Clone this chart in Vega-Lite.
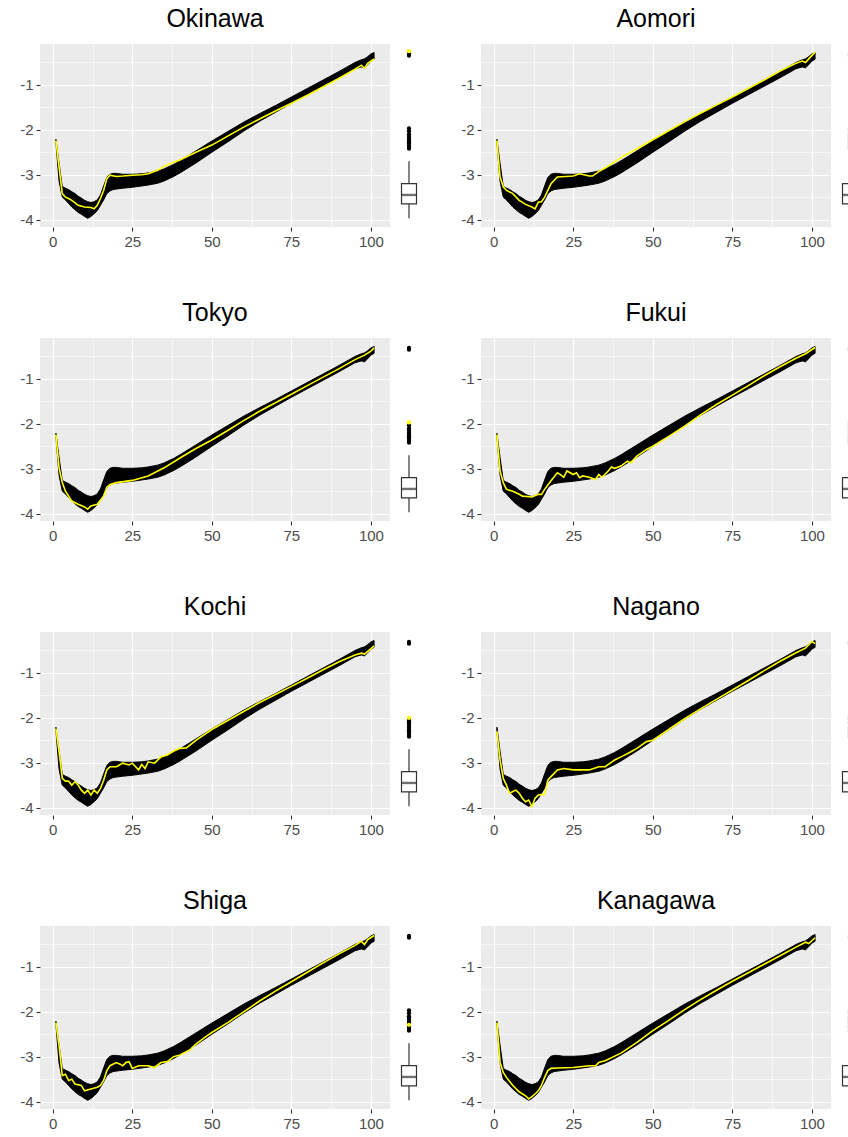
{
"$schema": "https://vega.github.io/schema/vega-lite/v6.json",
"background": "white",
"padding": {"left": 19, "top": 7, "right": 0, "bottom": 0},
"config": {
  "view": {"stroke": null},
  "axis": {"labelFont": "Liberation Sans", "labelFontSize": 15, "labelColor": "#4D4D4D", "tickColor": "#333333", "tickSize": 4, "tickWidth": 1.1, "labelPadding": 3, "domain": false, "gridColor": "white", "gridWidth": 1.2},
  "title": {"font": "Liberation Sans", "fontSize": 25, "fontWeight": "normal", "color": "black", "anchor": "middle", "baseline": "alphabetic", "offset": 12}
},
"datasets": {
  "band": [
    {"age":1,"lo":-2.28,"hi":-2.21},{"age":2,"lo":-3.15,"hi":-2.75},{"age":3,"lo":-3.5,"hi":-3.26},{"age":4,"lo":-3.56,"hi":-3.3},{"age":5,"lo":-3.64,"hi":-3.33},{"age":6,"lo":-3.72,"hi":-3.38},{"age":7,"lo":-3.78,"hi":-3.42},{"age":8,"lo":-3.84,"hi":-3.48},{"age":9,"lo":-3.88,"hi":-3.52},{"age":10,"lo":-3.93,"hi":-3.57},{"age":11,"lo":-3.97,"hi":-3.6},{"age":12,"lo":-3.93,"hi":-3.62},{"age":13,"lo":-3.87,"hi":-3.6},{"age":14,"lo":-3.8,"hi":-3.56},{"age":15,"lo":-3.68,"hi":-3.45},{"age":16,"lo":-3.56,"hi":-3.25},{"age":17,"lo":-3.42,"hi":-3.06},{"age":18,"lo":-3.36,"hi":-2.99},{"age":19,"lo":-3.33,"hi":-2.97},{"age":20,"lo":-3.32,"hi":-2.97},{"age":22,"lo":-3.3,"hi":-2.99},{"age":25,"lo":-3.28,"hi":-2.99},{"age":28,"lo":-3.25,"hi":-2.98},{"age":30,"lo":-3.23,"hi":-2.96},{"age":33,"lo":-3.19,"hi":-2.92},{"age":35,"lo":-3.14,"hi":-2.87},{"age":38,"lo":-3.04,"hi":-2.77},{"age":40,"lo":-2.96,"hi":-2.69},{"age":45,"lo":-2.74,"hi":-2.47},{"age":50,"lo":-2.5,"hi":-2.25},{"age":55,"lo":-2.27,"hi":-2.04},{"age":60,"lo":-2.03,"hi":-1.83},{"age":65,"lo":-1.81,"hi":-1.64},{"age":70,"lo":-1.61,"hi":-1.46},{"age":75,"lo":-1.41,"hi":-1.27},{"age":80,"lo":-1.22,"hi":-1.08},{"age":85,"lo":-1.03,"hi":-0.89},{"age":90,"lo":-0.84,"hi":-0.7},{"age":95,"lo":-0.64,"hi":-0.5},{"age":97,"lo":-0.6,"hi":-0.44},{"age":98,"lo":-0.62,"hi":-0.42},{"age":99,"lo":-0.55,"hi":-0.37},{"age":100,"lo":-0.47,"hi":-0.31},{"age":101,"lo":-0.43,"hi":-0.28}
  ],
  "yellow": [
    {"pref":"Okinawa","age":1,"v":-2.24},{"pref":"Okinawa","age":2,"v":-2.83},{"pref":"Okinawa","age":3,"v":-3.42},{"pref":"Okinawa","age":4,"v":-3.5},{"pref":"Okinawa","age":5,"v":-3.53},{"pref":"Okinawa","age":6,"v":-3.57},{"pref":"Okinawa","age":8,"v":-3.68},{"pref":"Okinawa","age":10,"v":-3.72},{"pref":"Okinawa","age":12,"v":-3.73},{"pref":"Okinawa","age":13,"v":-3.76},{"pref":"Okinawa","age":14,"v":-3.68},{"pref":"Okinawa","age":15,"v":-3.53},{"pref":"Okinawa","age":16,"v":-3.35},{"pref":"Okinawa","age":17,"v":-3.09},{"pref":"Okinawa","age":18,"v":-3.01},{"pref":"Okinawa","age":20,"v":-3.04},{"pref":"Okinawa","age":22,"v":-3.03},{"pref":"Okinawa","age":25,"v":-3.01},{"pref":"Okinawa","age":28,"v":-3.0},{"pref":"Okinawa","age":30,"v":-2.98},{"pref":"Okinawa","age":33,"v":-2.9},{"pref":"Okinawa","age":35,"v":-2.81},{"pref":"Okinawa","age":38,"v":-2.72},{"pref":"Okinawa","age":40,"v":-2.67},{"pref":"Okinawa","age":45,"v":-2.5},{"pref":"Okinawa","age":50,"v":-2.34},{"pref":"Okinawa","age":55,"v":-2.14},{"pref":"Okinawa","age":60,"v":-1.94},{"pref":"Okinawa","age":65,"v":-1.76},{"pref":"Okinawa","age":70,"v":-1.58},{"pref":"Okinawa","age":75,"v":-1.41},{"pref":"Okinawa","age":80,"v":-1.23},{"pref":"Okinawa","age":85,"v":-1.04},{"pref":"Okinawa","age":90,"v":-0.85},{"pref":"Okinawa","age":95,"v":-0.65},{"pref":"Okinawa","age":97,"v":-0.56},{"pref":"Okinawa","age":98,"v":-0.63},{"pref":"Okinawa","age":99,"v":-0.52},{"pref":"Okinawa","age":101,"v":-0.42},
    {"pref":"Aomori","age":1,"v":-2.24},{"pref":"Aomori","age":2,"v":-3.05},{"pref":"Aomori","age":3,"v":-3.27},{"pref":"Aomori","age":4,"v":-3.35},{"pref":"Aomori","age":6,"v":-3.42},{"pref":"Aomori","age":8,"v":-3.57},{"pref":"Aomori","age":10,"v":-3.66},{"pref":"Aomori","age":12,"v":-3.72},{"pref":"Aomori","age":13,"v":-3.76},{"pref":"Aomori","age":14,"v":-3.61},{"pref":"Aomori","age":15,"v":-3.6},{"pref":"Aomori","age":16,"v":-3.5},{"pref":"Aomori","age":18,"v":-3.2},{"pref":"Aomori","age":20,"v":-3.05},{"pref":"Aomori","age":25,"v":-3.03},{"pref":"Aomori","age":27,"v":-2.98},{"pref":"Aomori","age":30,"v":-3.03},{"pref":"Aomori","age":31,"v":-3.03},{"pref":"Aomori","age":33,"v":-2.93},{"pref":"Aomori","age":35,"v":-2.85},{"pref":"Aomori","age":40,"v":-2.62},{"pref":"Aomori","age":45,"v":-2.42},{"pref":"Aomori","age":50,"v":-2.22},{"pref":"Aomori","age":55,"v":-2.02},{"pref":"Aomori","age":60,"v":-1.82},{"pref":"Aomori","age":65,"v":-1.63},{"pref":"Aomori","age":70,"v":-1.45},{"pref":"Aomori","age":75,"v":-1.27},{"pref":"Aomori","age":80,"v":-1.08},{"pref":"Aomori","age":85,"v":-0.89},{"pref":"Aomori","age":90,"v":-0.69},{"pref":"Aomori","age":95,"v":-0.52},{"pref":"Aomori","age":97,"v":-0.47},{"pref":"Aomori","age":98,"v":-0.5},{"pref":"Aomori","age":99,"v":-0.42},{"pref":"Aomori","age":101,"v":-0.27},
    {"pref":"Tokyo","age":1,"v":-2.24},{"pref":"Tokyo","age":2,"v":-2.98},{"pref":"Tokyo","age":3,"v":-3.31},{"pref":"Tokyo","age":4,"v":-3.5},{"pref":"Tokyo","age":6,"v":-3.72},{"pref":"Tokyo","age":8,"v":-3.79},{"pref":"Tokyo","age":10,"v":-3.85},{"pref":"Tokyo","age":11,"v":-3.9},{"pref":"Tokyo","age":12,"v":-3.83},{"pref":"Tokyo","age":14,"v":-3.79},{"pref":"Tokyo","age":16,"v":-3.61},{"pref":"Tokyo","age":17,"v":-3.41},{"pref":"Tokyo","age":18,"v":-3.35},{"pref":"Tokyo","age":20,"v":-3.31},{"pref":"Tokyo","age":25,"v":-3.26},{"pref":"Tokyo","age":30,"v":-3.16},{"pref":"Tokyo","age":35,"v":-2.98},{"pref":"Tokyo","age":40,"v":-2.76},{"pref":"Tokyo","age":45,"v":-2.55},{"pref":"Tokyo","age":50,"v":-2.36},{"pref":"Tokyo","age":55,"v":-2.15},{"pref":"Tokyo","age":60,"v":-1.93},{"pref":"Tokyo","age":65,"v":-1.72},{"pref":"Tokyo","age":70,"v":-1.53},{"pref":"Tokyo","age":75,"v":-1.34},{"pref":"Tokyo","age":80,"v":-1.15},{"pref":"Tokyo","age":85,"v":-0.96},{"pref":"Tokyo","age":90,"v":-0.77},{"pref":"Tokyo","age":95,"v":-0.57},{"pref":"Tokyo","age":98,"v":-0.47},{"pref":"Tokyo","age":100,"v":-0.38},{"pref":"Tokyo","age":101,"v":-0.31},
    {"pref":"Fukui","age":1,"v":-2.24},{"pref":"Fukui","age":2,"v":-3.05},{"pref":"Fukui","age":3,"v":-3.31},{"pref":"Fukui","age":4,"v":-3.46},{"pref":"Fukui","age":6,"v":-3.5},{"pref":"Fukui","age":8,"v":-3.57},{"pref":"Fukui","age":9,"v":-3.61},{"pref":"Fukui","age":12,"v":-3.63},{"pref":"Fukui","age":14,"v":-3.57},{"pref":"Fukui","age":15,"v":-3.57},{"pref":"Fukui","age":16,"v":-3.46},{"pref":"Fukui","age":18,"v":-3.27},{"pref":"Fukui","age":20,"v":-3.09},{"pref":"Fukui","age":21,"v":-3.13},{"pref":"Fukui","age":22,"v":-3.19},{"pref":"Fukui","age":23,"v":-3.05},{"pref":"Fukui","age":25,"v":-3.13},{"pref":"Fukui","age":26,"v":-3.09},{"pref":"Fukui","age":27,"v":-3.2},{"pref":"Fukui","age":28,"v":-3.16},{"pref":"Fukui","age":30,"v":-3.19},{"pref":"Fukui","age":32,"v":-3.24},{"pref":"Fukui","age":33,"v":-3.13},{"pref":"Fukui","age":34,"v":-3.19},{"pref":"Fukui","age":36,"v":-3.05},{"pref":"Fukui","age":37,"v":-2.96},{"pref":"Fukui","age":38,"v":-2.99},{"pref":"Fukui","age":40,"v":-2.94},{"pref":"Fukui","age":42,"v":-2.83},{"pref":"Fukui","age":43,"v":-2.87},{"pref":"Fukui","age":45,"v":-2.72},{"pref":"Fukui","age":48,"v":-2.57},{"pref":"Fukui","age":50,"v":-2.5},{"pref":"Fukui","age":55,"v":-2.28},{"pref":"Fukui","age":60,"v":-2.05},{"pref":"Fukui","age":65,"v":-1.8},{"pref":"Fukui","age":70,"v":-1.57},{"pref":"Fukui","age":75,"v":-1.36},{"pref":"Fukui","age":80,"v":-1.15},{"pref":"Fukui","age":85,"v":-0.93},{"pref":"Fukui","age":90,"v":-0.73},{"pref":"Fukui","age":95,"v":-0.54},{"pref":"Fukui","age":98,"v":-0.44},{"pref":"Fukui","age":101,"v":-0.3},
    {"pref":"Kochi","age":1,"v":-2.24},{"pref":"Kochi","age":2,"v":-2.76},{"pref":"Kochi","age":3,"v":-3.35},{"pref":"Kochi","age":4,"v":-3.41},{"pref":"Kochi","age":5,"v":-3.41},{"pref":"Kochi","age":6,"v":-3.5},{"pref":"Kochi","age":7,"v":-3.42},{"pref":"Kochi","age":8,"v":-3.5},{"pref":"Kochi","age":9,"v":-3.61},{"pref":"Kochi","age":10,"v":-3.68},{"pref":"Kochi","age":11,"v":-3.61},{"pref":"Kochi","age":12,"v":-3.72},{"pref":"Kochi","age":13,"v":-3.61},{"pref":"Kochi","age":14,"v":-3.68},{"pref":"Kochi","age":15,"v":-3.57},{"pref":"Kochi","age":16,"v":-3.39},{"pref":"Kochi","age":17,"v":-3.16},{"pref":"Kochi","age":18,"v":-3.09},{"pref":"Kochi","age":20,"v":-3.09},{"pref":"Kochi","age":22,"v":-3.01},{"pref":"Kochi","age":24,"v":-3.05},{"pref":"Kochi","age":25,"v":-3.01},{"pref":"Kochi","age":27,"v":-3.16},{"pref":"Kochi","age":28,"v":-3.04},{"pref":"Kochi","age":29,"v":-3.13},{"pref":"Kochi","age":30,"v":-2.98},{"pref":"Kochi","age":32,"v":-3.01},{"pref":"Kochi","age":34,"v":-2.87},{"pref":"Kochi","age":36,"v":-2.83},{"pref":"Kochi","age":38,"v":-2.74},{"pref":"Kochi","age":40,"v":-2.68},{"pref":"Kochi","age":42,"v":-2.67},{"pref":"Kochi","age":45,"v":-2.5},{"pref":"Kochi","age":50,"v":-2.26},{"pref":"Kochi","age":55,"v":-2.06},{"pref":"Kochi","age":60,"v":-1.86},{"pref":"Kochi","age":65,"v":-1.66},{"pref":"Kochi","age":70,"v":-1.48},{"pref":"Kochi","age":75,"v":-1.3},{"pref":"Kochi","age":80,"v":-1.12},{"pref":"Kochi","age":85,"v":-0.93},{"pref":"Kochi","age":90,"v":-0.75},{"pref":"Kochi","age":95,"v":-0.6},{"pref":"Kochi","age":97,"v":-0.56},{"pref":"Kochi","age":98,"v":-0.58},{"pref":"Kochi","age":101,"v":-0.4},
    {"pref":"Nagano","age":1,"v":-2.3},{"pref":"Nagano","age":2,"v":-2.94},{"pref":"Nagano","age":3,"v":-3.35},{"pref":"Nagano","age":4,"v":-3.5},{"pref":"Nagano","age":5,"v":-3.68},{"pref":"Nagano","age":6,"v":-3.64},{"pref":"Nagano","age":7,"v":-3.61},{"pref":"Nagano","age":8,"v":-3.68},{"pref":"Nagano","age":9,"v":-3.79},{"pref":"Nagano","age":10,"v":-3.87},{"pref":"Nagano","age":11,"v":-3.83},{"pref":"Nagano","age":12,"v":-3.98},{"pref":"Nagano","age":13,"v":-3.79},{"pref":"Nagano","age":14,"v":-3.72},{"pref":"Nagano","age":16,"v":-3.7},{"pref":"Nagano","age":17,"v":-3.39},{"pref":"Nagano","age":18,"v":-3.31},{"pref":"Nagano","age":20,"v":-3.16},{"pref":"Nagano","age":22,"v":-3.13},{"pref":"Nagano","age":25,"v":-3.16},{"pref":"Nagano","age":30,"v":-3.16},{"pref":"Nagano","age":33,"v":-3.09},{"pref":"Nagano","age":35,"v":-3.09},{"pref":"Nagano","age":38,"v":-2.94},{"pref":"Nagano","age":40,"v":-2.87},{"pref":"Nagano","age":43,"v":-2.76},{"pref":"Nagano","age":45,"v":-2.68},{"pref":"Nagano","age":48,"v":-2.53},{"pref":"Nagano","age":50,"v":-2.5},{"pref":"Nagano","age":55,"v":-2.26},{"pref":"Nagano","age":60,"v":-2.02},{"pref":"Nagano","age":65,"v":-1.8},{"pref":"Nagano","age":70,"v":-1.59},{"pref":"Nagano","age":75,"v":-1.38},{"pref":"Nagano","age":80,"v":-1.17},{"pref":"Nagano","age":85,"v":-0.95},{"pref":"Nagano","age":90,"v":-0.74},{"pref":"Nagano","age":95,"v":-0.55},{"pref":"Nagano","age":98,"v":-0.45},{"pref":"Nagano","age":100,"v":-0.3},{"pref":"Nagano","age":101,"v":-0.35},
    {"pref":"Shiga","age":1,"v":-2.24},{"pref":"Shiga","age":2,"v":-2.76},{"pref":"Shiga","age":3,"v":-3.42},{"pref":"Shiga","age":4,"v":-3.39},{"pref":"Shiga","age":5,"v":-3.53},{"pref":"Shiga","age":6,"v":-3.5},{"pref":"Shiga","age":7,"v":-3.61},{"pref":"Shiga","age":9,"v":-3.64},{"pref":"Shiga","age":10,"v":-3.76},{"pref":"Shiga","age":12,"v":-3.72},{"pref":"Shiga","age":14,"v":-3.68},{"pref":"Shiga","age":15,"v":-3.64},{"pref":"Shiga","age":16,"v":-3.53},{"pref":"Shiga","age":17,"v":-3.31},{"pref":"Shiga","age":18,"v":-3.2},{"pref":"Shiga","age":20,"v":-3.13},{"pref":"Shiga","age":21,"v":-3.16},{"pref":"Shiga","age":22,"v":-3.2},{"pref":"Shiga","age":23,"v":-3.13},{"pref":"Shiga","age":24,"v":-3.11},{"pref":"Shiga","age":25,"v":-3.26},{"pref":"Shiga","age":27,"v":-3.2},{"pref":"Shiga","age":30,"v":-3.2},{"pref":"Shiga","age":32,"v":-3.24},{"pref":"Shiga","age":34,"v":-3.13},{"pref":"Shiga","age":36,"v":-3.11},{"pref":"Shiga","age":38,"v":-3.0},{"pref":"Shiga","age":40,"v":-2.96},{"pref":"Shiga","age":43,"v":-2.85},{"pref":"Shiga","age":45,"v":-2.72},{"pref":"Shiga","age":48,"v":-2.56},{"pref":"Shiga","age":50,"v":-2.46},{"pref":"Shiga","age":55,"v":-2.24},{"pref":"Shiga","age":60,"v":-2.0},{"pref":"Shiga","age":65,"v":-1.76},{"pref":"Shiga","age":70,"v":-1.54},{"pref":"Shiga","age":75,"v":-1.33},{"pref":"Shiga","age":80,"v":-1.12},{"pref":"Shiga","age":85,"v":-0.91},{"pref":"Shiga","age":90,"v":-0.71},{"pref":"Shiga","age":95,"v":-0.52},{"pref":"Shiga","age":97,"v":-0.43},{"pref":"Shiga","age":98,"v":-0.5},{"pref":"Shiga","age":99,"v":-0.39},{"pref":"Shiga","age":101,"v":-0.3},
    {"pref":"Kanagawa","age":1,"v":-2.24},{"pref":"Kanagawa","age":2,"v":-3.13},{"pref":"Kanagawa","age":3,"v":-3.35},{"pref":"Kanagawa","age":4,"v":-3.46},{"pref":"Kanagawa","age":6,"v":-3.64},{"pref":"Kanagawa","age":8,"v":-3.78},{"pref":"Kanagawa","age":10,"v":-3.87},{"pref":"Kanagawa","age":11,"v":-3.94},{"pref":"Kanagawa","age":12,"v":-3.89},{"pref":"Kanagawa","age":13,"v":-3.83},{"pref":"Kanagawa","age":14,"v":-3.76},{"pref":"Kanagawa","age":15,"v":-3.64},{"pref":"Kanagawa","age":16,"v":-3.46},{"pref":"Kanagawa","age":17,"v":-3.31},{"pref":"Kanagawa","age":18,"v":-3.26},{"pref":"Kanagawa","age":20,"v":-3.25},{"pref":"Kanagawa","age":25,"v":-3.24},{"pref":"Kanagawa","age":30,"v":-3.2},{"pref":"Kanagawa","age":32,"v":-3.2},{"pref":"Kanagawa","age":33,"v":-3.13},{"pref":"Kanagawa","age":35,"v":-3.09},{"pref":"Kanagawa","age":40,"v":-2.92},{"pref":"Kanagawa","age":45,"v":-2.68},{"pref":"Kanagawa","age":50,"v":-2.42},{"pref":"Kanagawa","age":55,"v":-2.19},{"pref":"Kanagawa","age":60,"v":-1.95},{"pref":"Kanagawa","age":65,"v":-1.73},{"pref":"Kanagawa","age":70,"v":-1.52},{"pref":"Kanagawa","age":75,"v":-1.32},{"pref":"Kanagawa","age":80,"v":-1.13},{"pref":"Kanagawa","age":85,"v":-0.94},{"pref":"Kanagawa","age":90,"v":-0.75},{"pref":"Kanagawa","age":95,"v":-0.56},{"pref":"Kanagawa","age":98,"v":-0.45},{"pref":"Kanagawa","age":99,"v":-0.48},{"pref":"Kanagawa","age":101,"v":-0.35}
  ],
  "box": [
    {"pref":"Okinawa","q1":-3.65,"med":-3.45,"q3":-3.2,"lo":-3.97,"hi":-2.7},
    {"pref":"Aomori","q1":-3.65,"med":-3.45,"q3":-3.2,"lo":-3.97,"hi":-2.7},
    {"pref":"Tokyo","q1":-3.65,"med":-3.45,"q3":-3.2,"lo":-3.97,"hi":-2.7},
    {"pref":"Fukui","q1":-3.65,"med":-3.45,"q3":-3.2,"lo":-3.97,"hi":-2.7},
    {"pref":"Kochi","q1":-3.65,"med":-3.45,"q3":-3.2,"lo":-3.97,"hi":-2.7},
    {"pref":"Nagano","q1":-3.65,"med":-3.45,"q3":-3.2,"lo":-3.97,"hi":-2.7},
    {"pref":"Shiga","q1":-3.65,"med":-3.45,"q3":-3.2,"lo":-3.97,"hi":-2.7},
    {"pref":"Kanagawa","q1":-3.65,"med":-3.45,"q3":-3.2,"lo":-3.97,"hi":-2.7}
  ],
  "outl": [
    {"pref":"Okinawa","v":-0.35,"hl":"no"},{"pref":"Okinawa","v":-0.31,"hl":"no"},{"pref":"Okinawa","v":-1.97,"hl":"no"},{"pref":"Okinawa","v":-2.03,"hl":"no"},{"pref":"Okinawa","v":-2.1,"hl":"no"},{"pref":"Okinawa","v":-2.14,"hl":"no"},{"pref":"Okinawa","v":-2.18,"hl":"no"},{"pref":"Okinawa","v":-2.22,"hl":"no"},{"pref":"Okinawa","v":-2.26,"hl":"no"},{"pref":"Okinawa","v":-2.3,"hl":"no"},{"pref":"Okinawa","v":-2.34,"hl":"no"},{"pref":"Okinawa","v":-2.38,"hl":"no"},{"pref":"Okinawa","v":-2.42,"hl":"no"},{"pref":"Okinawa","v":-0.25,"hl":"yes"},
    {"pref":"Aomori","v":-0.35,"hl":"no"},{"pref":"Aomori","v":-0.31,"hl":"no"},{"pref":"Aomori","v":-1.97,"hl":"no"},{"pref":"Aomori","v":-2.03,"hl":"no"},{"pref":"Aomori","v":-2.1,"hl":"no"},{"pref":"Aomori","v":-2.14,"hl":"no"},{"pref":"Aomori","v":-2.18,"hl":"no"},{"pref":"Aomori","v":-2.22,"hl":"no"},{"pref":"Aomori","v":-2.26,"hl":"no"},{"pref":"Aomori","v":-2.3,"hl":"no"},{"pref":"Aomori","v":-2.34,"hl":"no"},{"pref":"Aomori","v":-2.38,"hl":"no"},{"pref":"Aomori","v":-2.42,"hl":"no"},{"pref":"Aomori","v":-0.28,"hl":"yes"},
    {"pref":"Tokyo","v":-0.35,"hl":"no"},{"pref":"Tokyo","v":-0.31,"hl":"no"},{"pref":"Tokyo","v":-2.03,"hl":"no"},{"pref":"Tokyo","v":-2.1,"hl":"no"},{"pref":"Tokyo","v":-2.14,"hl":"no"},{"pref":"Tokyo","v":-2.18,"hl":"no"},{"pref":"Tokyo","v":-2.22,"hl":"no"},{"pref":"Tokyo","v":-2.26,"hl":"no"},{"pref":"Tokyo","v":-2.3,"hl":"no"},{"pref":"Tokyo","v":-2.34,"hl":"no"},{"pref":"Tokyo","v":-2.38,"hl":"no"},{"pref":"Tokyo","v":-2.42,"hl":"no"},{"pref":"Tokyo","v":-1.97,"hl":"yes"},
    {"pref":"Fukui","v":-0.35,"hl":"no"},{"pref":"Fukui","v":-0.31,"hl":"no"},{"pref":"Fukui","v":-1.97,"hl":"no"},{"pref":"Fukui","v":-2.03,"hl":"no"},{"pref":"Fukui","v":-2.1,"hl":"no"},{"pref":"Fukui","v":-2.14,"hl":"no"},{"pref":"Fukui","v":-2.18,"hl":"no"},{"pref":"Fukui","v":-2.26,"hl":"no"},{"pref":"Fukui","v":-2.3,"hl":"no"},{"pref":"Fukui","v":-2.34,"hl":"no"},{"pref":"Fukui","v":-2.38,"hl":"no"},{"pref":"Fukui","v":-2.42,"hl":"no"},{"pref":"Fukui","v":-2.24,"hl":"yes"},
    {"pref":"Kochi","v":-0.35,"hl":"no"},{"pref":"Kochi","v":-0.31,"hl":"no"},{"pref":"Kochi","v":-2.06,"hl":"no"},{"pref":"Kochi","v":-2.1,"hl":"no"},{"pref":"Kochi","v":-2.14,"hl":"no"},{"pref":"Kochi","v":-2.18,"hl":"no"},{"pref":"Kochi","v":-2.22,"hl":"no"},{"pref":"Kochi","v":-2.26,"hl":"no"},{"pref":"Kochi","v":-2.3,"hl":"no"},{"pref":"Kochi","v":-2.34,"hl":"no"},{"pref":"Kochi","v":-2.38,"hl":"no"},{"pref":"Kochi","v":-2.42,"hl":"no"},{"pref":"Kochi","v":-2.0,"hl":"yes"},
    {"pref":"Nagano","v":-0.35,"hl":"no"},{"pref":"Nagano","v":-0.31,"hl":"no"},{"pref":"Nagano","v":-1.97,"hl":"no"},{"pref":"Nagano","v":-2.03,"hl":"no"},{"pref":"Nagano","v":-2.1,"hl":"no"},{"pref":"Nagano","v":-2.14,"hl":"no"},{"pref":"Nagano","v":-2.22,"hl":"no"},{"pref":"Nagano","v":-2.26,"hl":"no"},{"pref":"Nagano","v":-2.3,"hl":"no"},{"pref":"Nagano","v":-2.34,"hl":"no"},{"pref":"Nagano","v":-2.38,"hl":"no"},{"pref":"Nagano","v":-2.42,"hl":"no"},{"pref":"Nagano","v":-2.19,"hl":"yes"},
    {"pref":"Shiga","v":-0.35,"hl":"no"},{"pref":"Shiga","v":-0.31,"hl":"no"},{"pref":"Shiga","v":-1.97,"hl":"no"},{"pref":"Shiga","v":-2.03,"hl":"no"},{"pref":"Shiga","v":-2.1,"hl":"no"},{"pref":"Shiga","v":-2.14,"hl":"no"},{"pref":"Shiga","v":-2.18,"hl":"no"},{"pref":"Shiga","v":-2.22,"hl":"no"},{"pref":"Shiga","v":-2.26,"hl":"no"},{"pref":"Shiga","v":-2.34,"hl":"no"},{"pref":"Shiga","v":-2.38,"hl":"no"},{"pref":"Shiga","v":-2.42,"hl":"no"},{"pref":"Shiga","v":-2.29,"hl":"yes"},
    {"pref":"Kanagawa","v":-0.35,"hl":"no"},{"pref":"Kanagawa","v":-0.31,"hl":"no"},{"pref":"Kanagawa","v":-1.97,"hl":"no"},{"pref":"Kanagawa","v":-2.03,"hl":"no"},{"pref":"Kanagawa","v":-2.1,"hl":"no"},{"pref":"Kanagawa","v":-2.14,"hl":"no"},{"pref":"Kanagawa","v":-2.18,"hl":"no"},{"pref":"Kanagawa","v":-2.22,"hl":"no"},{"pref":"Kanagawa","v":-2.26,"hl":"no"},{"pref":"Kanagawa","v":-2.3,"hl":"no"},{"pref":"Kanagawa","v":-2.34,"hl":"no"},{"pref":"Kanagawa","v":-2.42,"hl":"no"},{"pref":"Kanagawa","v":-2.37,"hl":"yes"}
  ]
},
"spacing": 52,
"vconcat": [
 {"spacing": 0, "hconcat": [
  {"width": 350, "height": 183, "title": "Okinawa", "view": {"fill": "#EBEBEB", "stroke": null}, "resolve": {"axis": {"x": "independent", "y": "independent"}},
   "layer": [
    {"data": {"name": "band"}, "mark": {"type": "area", "color": "black", "stroke": "black", "strokeWidth": 1},
     "encoding": {"x": {"field": "age", "type": "quantitative", "scale": {"domain": [-4, 106], "nice": false, "zero": false}, "axis": {"values": [0,25,50,75,100], "grid": true, "title": null}},
      "y": {"field": "hi", "type": "quantitative", "scale": {"domain": [-4.164, -0.089], "nice": false, "zero": false}, "axis": {"values": [-4,-3,-2,-1], "grid": true, "title": null, "labelExpr": "toString(datum.value)"}}, "y2": {"field": "lo"}}},
    {"data": {"name": "yellow"}, "transform": [{"filter": {"field": "pref", "equal": "Okinawa"}}], "mark": {"type": "line", "color": "#FFFF00", "strokeWidth": 1.6},
     "encoding": {"x": {"field": "age", "type": "quantitative", "axis": {"orient": "top", "values": [12.5,37.5,62.5,87.5], "grid": true, "gridWidth": 0.6, "labels": false, "ticks": false, "title": null}},
      "y": {"field": "v", "type": "quantitative", "axis": {"orient": "right", "values": [-3.5,-2.5,-1.5,-0.5], "grid": true, "gridWidth": 0.6, "labels": false, "ticks": false, "title": null}}}}
   ]},
  {"width": 70, "height": 183,
   "encoding": {"x": {"field": "pref", "type": "nominal", "scale": {"type": "band", "range": [0, 38]}, "axis": null}},
   "layer": [
    {"data": {"name": "box"}, "transform": [{"filter": {"field": "pref", "equal": "Okinawa"}}], "mark": {"type": "rule", "color": "#333333", "strokeWidth": 1.2},
     "encoding": {"y": {"field": "lo", "type": "quantitative", "scale": {"domain": [-4.164, -0.089], "nice": false, "zero": false}, "axis": null}, "y2": {"field": "hi"}}},
    {"data": {"name": "box"}, "transform": [{"filter": {"field": "pref", "equal": "Okinawa"}}], "mark": {"type": "bar", "size": 15, "fill": "white", "stroke": "#333333", "strokeWidth": 1.2},
     "encoding": {"y": {"field": "q1", "type": "quantitative"}, "y2": {"field": "q3"}}},
    {"data": {"name": "box"}, "transform": [{"filter": {"field": "pref", "equal": "Okinawa"}}], "mark": {"type": "tick", "size": 15, "thickness": 2.4, "color": "#333333"},
     "encoding": {"y": {"field": "med", "type": "quantitative"}}},
    {"data": {"name": "outl"}, "transform": [{"filter": {"field": "pref", "equal": "Okinawa"}}], "mark": {"type": "circle", "size": 18, "opacity": 1},
     "encoding": {"y": {"field": "v", "type": "quantitative"}, "color": {"field": "hl", "type": "nominal", "scale": {"domain": ["no","yes"], "range": ["black","#FFFF00"]}, "legend": null}}}
   ]},
  {"width": 350, "height": 183, "title": "Aomori", "view": {"fill": "#EBEBEB", "stroke": null}, "resolve": {"axis": {"x": "independent", "y": "independent"}},
   "layer": [
    {"data": {"name": "band"}, "mark": {"type": "area", "color": "black", "stroke": "black", "strokeWidth": 1},
     "encoding": {"x": {"field": "age", "type": "quantitative", "scale": {"domain": [-4, 106], "nice": false, "zero": false}, "axis": {"values": [0,25,50,75,100], "grid": true, "title": null}},
      "y": {"field": "hi", "type": "quantitative", "scale": {"domain": [-4.164, -0.089], "nice": false, "zero": false}, "axis": {"values": [-4,-3,-2,-1], "grid": true, "title": null, "labelExpr": "toString(datum.value)"}}, "y2": {"field": "lo"}}},
    {"data": {"name": "yellow"}, "transform": [{"filter": {"field": "pref", "equal": "Aomori"}}], "mark": {"type": "line", "color": "#FFFF00", "strokeWidth": 1.6},
     "encoding": {"x": {"field": "age", "type": "quantitative", "axis": {"orient": "top", "values": [12.5,37.5,62.5,87.5], "grid": true, "gridWidth": 0.6, "labels": false, "ticks": false, "title": null}},
      "y": {"field": "v", "type": "quantitative", "axis": {"orient": "right", "values": [-3.5,-2.5,-1.5,-0.5], "grid": true, "gridWidth": 0.6, "labels": false, "ticks": false, "title": null}}}}
   ]},
  {"width": 20, "height": 183,
   "encoding": {"x": {"field": "pref", "type": "nominal", "scale": {"type": "band", "range": [0, 38]}, "axis": null}},
   "layer": [
    {"data": {"name": "box"}, "transform": [{"filter": {"field": "pref", "equal": "Aomori"}}], "mark": {"type": "rule", "color": "#333333", "strokeWidth": 1.2, "clip": true},
     "encoding": {"y": {"field": "lo", "type": "quantitative", "scale": {"domain": [-4.164, -0.089], "nice": false, "zero": false}, "axis": null}, "y2": {"field": "hi"}}},
    {"data": {"name": "box"}, "transform": [{"filter": {"field": "pref", "equal": "Aomori"}}], "mark": {"type": "bar", "size": 15, "fill": "white", "stroke": "#333333", "strokeWidth": 1.2, "clip": true},
     "encoding": {"y": {"field": "q1", "type": "quantitative"}, "y2": {"field": "q3"}}},
    {"data": {"name": "box"}, "transform": [{"filter": {"field": "pref", "equal": "Aomori"}}], "mark": {"type": "tick", "size": 15, "thickness": 2.4, "color": "#333333", "clip": true},
     "encoding": {"y": {"field": "med", "type": "quantitative"}}},
    {"data": {"name": "outl"}, "transform": [{"filter": {"field": "pref", "equal": "Aomori"}}], "mark": {"type": "circle", "size": 18, "opacity": 1, "clip": true},
     "encoding": {"y": {"field": "v", "type": "quantitative"}, "color": {"field": "hl", "type": "nominal", "scale": {"domain": ["no","yes"], "range": ["black","#FFFF00"]}, "legend": null}}}
   ]}
 ]},
 {"spacing": 0, "hconcat": [
  {"width": 350, "height": 183, "title": "Tokyo", "view": {"fill": "#EBEBEB", "stroke": null}, "resolve": {"axis": {"x": "independent", "y": "independent"}},
   "layer": [
    {"data": {"name": "band"}, "mark": {"type": "area", "color": "black", "stroke": "black", "strokeWidth": 1},
     "encoding": {"x": {"field": "age", "type": "quantitative", "scale": {"domain": [-4, 106], "nice": false, "zero": false}, "axis": {"values": [0,25,50,75,100], "grid": true, "title": null}},
      "y": {"field": "hi", "type": "quantitative", "scale": {"domain": [-4.164, -0.089], "nice": false, "zero": false}, "axis": {"values": [-4,-3,-2,-1], "grid": true, "title": null, "labelExpr": "toString(datum.value)"}}, "y2": {"field": "lo"}}},
    {"data": {"name": "yellow"}, "transform": [{"filter": {"field": "pref", "equal": "Tokyo"}}], "mark": {"type": "line", "color": "#FFFF00", "strokeWidth": 1.6},
     "encoding": {"x": {"field": "age", "type": "quantitative", "axis": {"orient": "top", "values": [12.5,37.5,62.5,87.5], "grid": true, "gridWidth": 0.6, "labels": false, "ticks": false, "title": null}},
      "y": {"field": "v", "type": "quantitative", "axis": {"orient": "right", "values": [-3.5,-2.5,-1.5,-0.5], "grid": true, "gridWidth": 0.6, "labels": false, "ticks": false, "title": null}}}}
   ]},
  {"width": 70, "height": 183,
   "encoding": {"x": {"field": "pref", "type": "nominal", "scale": {"type": "band", "range": [0, 38]}, "axis": null}},
   "layer": [
    {"data": {"name": "box"}, "transform": [{"filter": {"field": "pref", "equal": "Tokyo"}}], "mark": {"type": "rule", "color": "#333333", "strokeWidth": 1.2},
     "encoding": {"y": {"field": "lo", "type": "quantitative", "scale": {"domain": [-4.164, -0.089], "nice": false, "zero": false}, "axis": null}, "y2": {"field": "hi"}}},
    {"data": {"name": "box"}, "transform": [{"filter": {"field": "pref", "equal": "Tokyo"}}], "mark": {"type": "bar", "size": 15, "fill": "white", "stroke": "#333333", "strokeWidth": 1.2},
     "encoding": {"y": {"field": "q1", "type": "quantitative"}, "y2": {"field": "q3"}}},
    {"data": {"name": "box"}, "transform": [{"filter": {"field": "pref", "equal": "Tokyo"}}], "mark": {"type": "tick", "size": 15, "thickness": 2.4, "color": "#333333"},
     "encoding": {"y": {"field": "med", "type": "quantitative"}}},
    {"data": {"name": "outl"}, "transform": [{"filter": {"field": "pref", "equal": "Tokyo"}}], "mark": {"type": "circle", "size": 18, "opacity": 1},
     "encoding": {"y": {"field": "v", "type": "quantitative"}, "color": {"field": "hl", "type": "nominal", "scale": {"domain": ["no","yes"], "range": ["black","#FFFF00"]}, "legend": null}}}
   ]},
  {"width": 350, "height": 183, "title": "Fukui", "view": {"fill": "#EBEBEB", "stroke": null}, "resolve": {"axis": {"x": "independent", "y": "independent"}},
   "layer": [
    {"data": {"name": "band"}, "mark": {"type": "area", "color": "black", "stroke": "black", "strokeWidth": 1},
     "encoding": {"x": {"field": "age", "type": "quantitative", "scale": {"domain": [-4, 106], "nice": false, "zero": false}, "axis": {"values": [0,25,50,75,100], "grid": true, "title": null}},
      "y": {"field": "hi", "type": "quantitative", "scale": {"domain": [-4.164, -0.089], "nice": false, "zero": false}, "axis": {"values": [-4,-3,-2,-1], "grid": true, "title": null, "labelExpr": "toString(datum.value)"}}, "y2": {"field": "lo"}}},
    {"data": {"name": "yellow"}, "transform": [{"filter": {"field": "pref", "equal": "Fukui"}}], "mark": {"type": "line", "color": "#FFFF00", "strokeWidth": 1.6},
     "encoding": {"x": {"field": "age", "type": "quantitative", "axis": {"orient": "top", "values": [12.5,37.5,62.5,87.5], "grid": true, "gridWidth": 0.6, "labels": false, "ticks": false, "title": null}},
      "y": {"field": "v", "type": "quantitative", "axis": {"orient": "right", "values": [-3.5,-2.5,-1.5,-0.5], "grid": true, "gridWidth": 0.6, "labels": false, "ticks": false, "title": null}}}}
   ]},
  {"width": 20, "height": 183,
   "encoding": {"x": {"field": "pref", "type": "nominal", "scale": {"type": "band", "range": [0, 38]}, "axis": null}},
   "layer": [
    {"data": {"name": "box"}, "transform": [{"filter": {"field": "pref", "equal": "Fukui"}}], "mark": {"type": "rule", "color": "#333333", "strokeWidth": 1.2, "clip": true},
     "encoding": {"y": {"field": "lo", "type": "quantitative", "scale": {"domain": [-4.164, -0.089], "nice": false, "zero": false}, "axis": null}, "y2": {"field": "hi"}}},
    {"data": {"name": "box"}, "transform": [{"filter": {"field": "pref", "equal": "Fukui"}}], "mark": {"type": "bar", "size": 15, "fill": "white", "stroke": "#333333", "strokeWidth": 1.2, "clip": true},
     "encoding": {"y": {"field": "q1", "type": "quantitative"}, "y2": {"field": "q3"}}},
    {"data": {"name": "box"}, "transform": [{"filter": {"field": "pref", "equal": "Fukui"}}], "mark": {"type": "tick", "size": 15, "thickness": 2.4, "color": "#333333", "clip": true},
     "encoding": {"y": {"field": "med", "type": "quantitative"}}},
    {"data": {"name": "outl"}, "transform": [{"filter": {"field": "pref", "equal": "Fukui"}}], "mark": {"type": "circle", "size": 18, "opacity": 1, "clip": true},
     "encoding": {"y": {"field": "v", "type": "quantitative"}, "color": {"field": "hl", "type": "nominal", "scale": {"domain": ["no","yes"], "range": ["black","#FFFF00"]}, "legend": null}}}
   ]}
 ]},
 {"spacing": 0, "hconcat": [
  {"width": 350, "height": 183, "title": "Kochi", "view": {"fill": "#EBEBEB", "stroke": null}, "resolve": {"axis": {"x": "independent", "y": "independent"}},
   "layer": [
    {"data": {"name": "band"}, "mark": {"type": "area", "color": "black", "stroke": "black", "strokeWidth": 1},
     "encoding": {"x": {"field": "age", "type": "quantitative", "scale": {"domain": [-4, 106], "nice": false, "zero": false}, "axis": {"values": [0,25,50,75,100], "grid": true, "title": null}},
      "y": {"field": "hi", "type": "quantitative", "scale": {"domain": [-4.164, -0.089], "nice": false, "zero": false}, "axis": {"values": [-4,-3,-2,-1], "grid": true, "title": null, "labelExpr": "toString(datum.value)"}}, "y2": {"field": "lo"}}},
    {"data": {"name": "yellow"}, "transform": [{"filter": {"field": "pref", "equal": "Kochi"}}], "mark": {"type": "line", "color": "#FFFF00", "strokeWidth": 1.6},
     "encoding": {"x": {"field": "age", "type": "quantitative", "axis": {"orient": "top", "values": [12.5,37.5,62.5,87.5], "grid": true, "gridWidth": 0.6, "labels": false, "ticks": false, "title": null}},
      "y": {"field": "v", "type": "quantitative", "axis": {"orient": "right", "values": [-3.5,-2.5,-1.5,-0.5], "grid": true, "gridWidth": 0.6, "labels": false, "ticks": false, "title": null}}}}
   ]},
  {"width": 70, "height": 183,
   "encoding": {"x": {"field": "pref", "type": "nominal", "scale": {"type": "band", "range": [0, 38]}, "axis": null}},
   "layer": [
    {"data": {"name": "box"}, "transform": [{"filter": {"field": "pref", "equal": "Kochi"}}], "mark": {"type": "rule", "color": "#333333", "strokeWidth": 1.2},
     "encoding": {"y": {"field": "lo", "type": "quantitative", "scale": {"domain": [-4.164, -0.089], "nice": false, "zero": false}, "axis": null}, "y2": {"field": "hi"}}},
    {"data": {"name": "box"}, "transform": [{"filter": {"field": "pref", "equal": "Kochi"}}], "mark": {"type": "bar", "size": 15, "fill": "white", "stroke": "#333333", "strokeWidth": 1.2},
     "encoding": {"y": {"field": "q1", "type": "quantitative"}, "y2": {"field": "q3"}}},
    {"data": {"name": "box"}, "transform": [{"filter": {"field": "pref", "equal": "Kochi"}}], "mark": {"type": "tick", "size": 15, "thickness": 2.4, "color": "#333333"},
     "encoding": {"y": {"field": "med", "type": "quantitative"}}},
    {"data": {"name": "outl"}, "transform": [{"filter": {"field": "pref", "equal": "Kochi"}}], "mark": {"type": "circle", "size": 18, "opacity": 1},
     "encoding": {"y": {"field": "v", "type": "quantitative"}, "color": {"field": "hl", "type": "nominal", "scale": {"domain": ["no","yes"], "range": ["black","#FFFF00"]}, "legend": null}}}
   ]},
  {"width": 350, "height": 183, "title": "Nagano", "view": {"fill": "#EBEBEB", "stroke": null}, "resolve": {"axis": {"x": "independent", "y": "independent"}},
   "layer": [
    {"data": {"name": "band"}, "mark": {"type": "area", "color": "black", "stroke": "black", "strokeWidth": 1},
     "encoding": {"x": {"field": "age", "type": "quantitative", "scale": {"domain": [-4, 106], "nice": false, "zero": false}, "axis": {"values": [0,25,50,75,100], "grid": true, "title": null}},
      "y": {"field": "hi", "type": "quantitative", "scale": {"domain": [-4.164, -0.089], "nice": false, "zero": false}, "axis": {"values": [-4,-3,-2,-1], "grid": true, "title": null, "labelExpr": "toString(datum.value)"}}, "y2": {"field": "lo"}}},
    {"data": {"name": "yellow"}, "transform": [{"filter": {"field": "pref", "equal": "Nagano"}}], "mark": {"type": "line", "color": "#FFFF00", "strokeWidth": 1.6},
     "encoding": {"x": {"field": "age", "type": "quantitative", "axis": {"orient": "top", "values": [12.5,37.5,62.5,87.5], "grid": true, "gridWidth": 0.6, "labels": false, "ticks": false, "title": null}},
      "y": {"field": "v", "type": "quantitative", "axis": {"orient": "right", "values": [-3.5,-2.5,-1.5,-0.5], "grid": true, "gridWidth": 0.6, "labels": false, "ticks": false, "title": null}}}}
   ]},
  {"width": 20, "height": 183,
   "encoding": {"x": {"field": "pref", "type": "nominal", "scale": {"type": "band", "range": [0, 38]}, "axis": null}},
   "layer": [
    {"data": {"name": "box"}, "transform": [{"filter": {"field": "pref", "equal": "Nagano"}}], "mark": {"type": "rule", "color": "#333333", "strokeWidth": 1.2, "clip": true},
     "encoding": {"y": {"field": "lo", "type": "quantitative", "scale": {"domain": [-4.164, -0.089], "nice": false, "zero": false}, "axis": null}, "y2": {"field": "hi"}}},
    {"data": {"name": "box"}, "transform": [{"filter": {"field": "pref", "equal": "Nagano"}}], "mark": {"type": "bar", "size": 15, "fill": "white", "stroke": "#333333", "strokeWidth": 1.2, "clip": true},
     "encoding": {"y": {"field": "q1", "type": "quantitative"}, "y2": {"field": "q3"}}},
    {"data": {"name": "box"}, "transform": [{"filter": {"field": "pref", "equal": "Nagano"}}], "mark": {"type": "tick", "size": 15, "thickness": 2.4, "color": "#333333", "clip": true},
     "encoding": {"y": {"field": "med", "type": "quantitative"}}},
    {"data": {"name": "outl"}, "transform": [{"filter": {"field": "pref", "equal": "Nagano"}}], "mark": {"type": "circle", "size": 18, "opacity": 1, "clip": true},
     "encoding": {"y": {"field": "v", "type": "quantitative"}, "color": {"field": "hl", "type": "nominal", "scale": {"domain": ["no","yes"], "range": ["black","#FFFF00"]}, "legend": null}}}
   ]}
 ]},
 {"spacing": 0, "hconcat": [
  {"width": 350, "height": 183, "title": "Shiga", "view": {"fill": "#EBEBEB", "stroke": null}, "resolve": {"axis": {"x": "independent", "y": "independent"}},
   "layer": [
    {"data": {"name": "band"}, "mark": {"type": "area", "color": "black", "stroke": "black", "strokeWidth": 1},
     "encoding": {"x": {"field": "age", "type": "quantitative", "scale": {"domain": [-4, 106], "nice": false, "zero": false}, "axis": {"values": [0,25,50,75,100], "grid": true, "title": null}},
      "y": {"field": "hi", "type": "quantitative", "scale": {"domain": [-4.164, -0.089], "nice": false, "zero": false}, "axis": {"values": [-4,-3,-2,-1], "grid": true, "title": null, "labelExpr": "toString(datum.value)"}}, "y2": {"field": "lo"}}},
    {"data": {"name": "yellow"}, "transform": [{"filter": {"field": "pref", "equal": "Shiga"}}], "mark": {"type": "line", "color": "#FFFF00", "strokeWidth": 1.6},
     "encoding": {"x": {"field": "age", "type": "quantitative", "axis": {"orient": "top", "values": [12.5,37.5,62.5,87.5], "grid": true, "gridWidth": 0.6, "labels": false, "ticks": false, "title": null}},
      "y": {"field": "v", "type": "quantitative", "axis": {"orient": "right", "values": [-3.5,-2.5,-1.5,-0.5], "grid": true, "gridWidth": 0.6, "labels": false, "ticks": false, "title": null}}}}
   ]},
  {"width": 70, "height": 183,
   "encoding": {"x": {"field": "pref", "type": "nominal", "scale": {"type": "band", "range": [0, 38]}, "axis": null}},
   "layer": [
    {"data": {"name": "box"}, "transform": [{"filter": {"field": "pref", "equal": "Shiga"}}], "mark": {"type": "rule", "color": "#333333", "strokeWidth": 1.2},
     "encoding": {"y": {"field": "lo", "type": "quantitative", "scale": {"domain": [-4.164, -0.089], "nice": false, "zero": false}, "axis": null}, "y2": {"field": "hi"}}},
    {"data": {"name": "box"}, "transform": [{"filter": {"field": "pref", "equal": "Shiga"}}], "mark": {"type": "bar", "size": 15, "fill": "white", "stroke": "#333333", "strokeWidth": 1.2},
     "encoding": {"y": {"field": "q1", "type": "quantitative"}, "y2": {"field": "q3"}}},
    {"data": {"name": "box"}, "transform": [{"filter": {"field": "pref", "equal": "Shiga"}}], "mark": {"type": "tick", "size": 15, "thickness": 2.4, "color": "#333333"},
     "encoding": {"y": {"field": "med", "type": "quantitative"}}},
    {"data": {"name": "outl"}, "transform": [{"filter": {"field": "pref", "equal": "Shiga"}}], "mark": {"type": "circle", "size": 18, "opacity": 1},
     "encoding": {"y": {"field": "v", "type": "quantitative"}, "color": {"field": "hl", "type": "nominal", "scale": {"domain": ["no","yes"], "range": ["black","#FFFF00"]}, "legend": null}}}
   ]},
  {"width": 350, "height": 183, "title": "Kanagawa", "view": {"fill": "#EBEBEB", "stroke": null}, "resolve": {"axis": {"x": "independent", "y": "independent"}},
   "layer": [
    {"data": {"name": "band"}, "mark": {"type": "area", "color": "black", "stroke": "black", "strokeWidth": 1},
     "encoding": {"x": {"field": "age", "type": "quantitative", "scale": {"domain": [-4, 106], "nice": false, "zero": false}, "axis": {"values": [0,25,50,75,100], "grid": true, "title": null}},
      "y": {"field": "hi", "type": "quantitative", "scale": {"domain": [-4.164, -0.089], "nice": false, "zero": false}, "axis": {"values": [-4,-3,-2,-1], "grid": true, "title": null, "labelExpr": "toString(datum.value)"}}, "y2": {"field": "lo"}}},
    {"data": {"name": "yellow"}, "transform": [{"filter": {"field": "pref", "equal": "Kanagawa"}}], "mark": {"type": "line", "color": "#FFFF00", "strokeWidth": 1.6},
     "encoding": {"x": {"field": "age", "type": "quantitative", "axis": {"orient": "top", "values": [12.5,37.5,62.5,87.5], "grid": true, "gridWidth": 0.6, "labels": false, "ticks": false, "title": null}},
      "y": {"field": "v", "type": "quantitative", "axis": {"orient": "right", "values": [-3.5,-2.5,-1.5,-0.5], "grid": true, "gridWidth": 0.6, "labels": false, "ticks": false, "title": null}}}}
   ]},
  {"width": 20, "height": 183,
   "encoding": {"x": {"field": "pref", "type": "nominal", "scale": {"type": "band", "range": [0, 38]}, "axis": null}},
   "layer": [
    {"data": {"name": "box"}, "transform": [{"filter": {"field": "pref", "equal": "Kanagawa"}}], "mark": {"type": "rule", "color": "#333333", "strokeWidth": 1.2, "clip": true},
     "encoding": {"y": {"field": "lo", "type": "quantitative", "scale": {"domain": [-4.164, -0.089], "nice": false, "zero": false}, "axis": null}, "y2": {"field": "hi"}}},
    {"data": {"name": "box"}, "transform": [{"filter": {"field": "pref", "equal": "Kanagawa"}}], "mark": {"type": "bar", "size": 15, "fill": "white", "stroke": "#333333", "strokeWidth": 1.2, "clip": true},
     "encoding": {"y": {"field": "q1", "type": "quantitative"}, "y2": {"field": "q3"}}},
    {"data": {"name": "box"}, "transform": [{"filter": {"field": "pref", "equal": "Kanagawa"}}], "mark": {"type": "tick", "size": 15, "thickness": 2.4, "color": "#333333", "clip": true},
     "encoding": {"y": {"field": "med", "type": "quantitative"}}},
    {"data": {"name": "outl"}, "transform": [{"filter": {"field": "pref", "equal": "Kanagawa"}}], "mark": {"type": "circle", "size": 18, "opacity": 1, "clip": true},
     "encoding": {"y": {"field": "v", "type": "quantitative"}, "color": {"field": "hl", "type": "nominal", "scale": {"domain": ["no","yes"], "range": ["black","#FFFF00"]}, "legend": null}}}
   ]}
 ]}
]
}
